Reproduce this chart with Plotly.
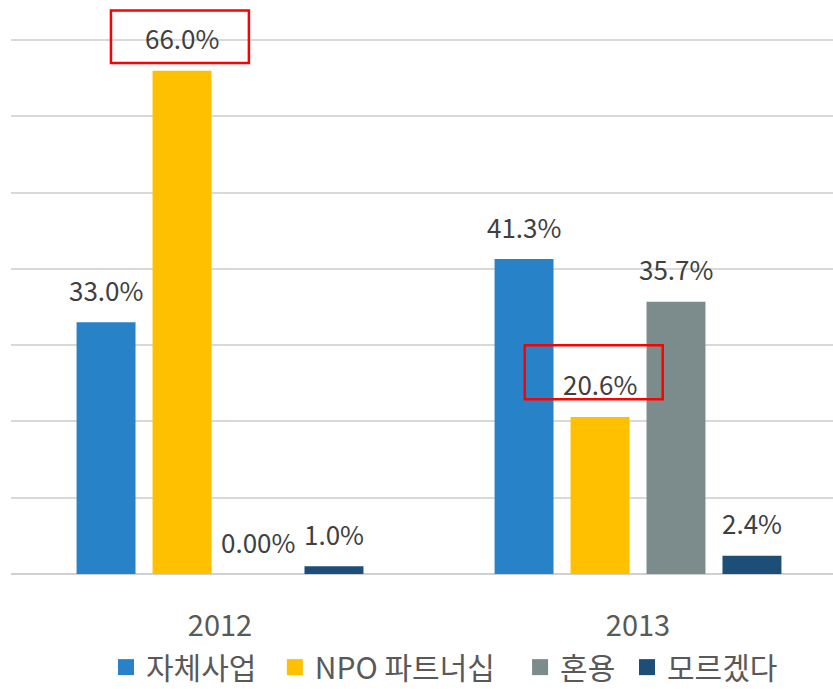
import plotly.graph_objects as go

categories = ["2012", "2013"]
series_names = ["자체사업", "NPO 파트너십", "혼용", "모르겠다"]
series_colors = ["#2882C8", "#FFC000", "#7C8C8D", "#1D4E77"]
values = {
    "자체사업": [33.0, 41.3],
    "NPO 파트너십": [66.0, 20.6],
    "혼용": [0.0, 35.7],
    "모르겠다": [1.0, 2.4],
}
labels = {
    "자체사업": ["33.0%", "41.3%"],
    "NPO 파트너십": ["66.0%", "20.6%"],
    "혼용": ["0.00%", "35.7%"],
    "모르겠다": ["1.0%", "2.4%"],
}
# highlighted labels: (series, category index)
highlights = [("NPO 파트너십", 0), ("NPO 파트너십", 1)]

FONT = "Noto Sans CJK KR"
BARGAP = 0.273
BARGROUPGAP = 0.224
n = len(series_names)
slot = (1 - BARGAP) / n
legend_pad = [2, 3, 1, 1]  # spacing after each legend entry (non-breaking spaces)

fig = go.Figure()
for i, name in enumerate(series_names):
    fig.add_trace(go.Bar(
        x=categories, y=values[name], name=name,
        marker=dict(color=series_colors[i], line=dict(width=0)),
        showlegend=False,
    ))
    fig.add_trace(go.Scatter(
        x=[None], y=[None], mode="markers", name=name + "\u00a0" * legend_pad[i],
        marker=dict(symbol="square", size=16, color=series_colors[i]),
        showlegend=True,
    ))

annotations = []
for i, name in enumerate(series_names):
    for c, v in enumerate(values[name]):
        annotations.append(dict(
            x=c + (i - (n - 1) / 2) * slot, y=v, xref="x", yref="y",
            text=labels[name][c], showarrow=False, yshift=33,
            xanchor="center", yanchor="middle",
            font=dict(family=FONT, size=26, color="#404040"),
        ))

shapes = []
for name, c in highlights:
    i = series_names.index(name)
    v = values[name][c]
    xc = c + (i - (n - 1) / 2) * slot
    if c == 0:
        x0, x1, y0, y1 = xc - 0.17, xc + 0.16, v + 1.0, v + 7.9
    else:
        x0, x1, y0, y1 = xc - 0.18, xc + 0.15, v + 2.3, v + 9.4
    shapes.append(dict(type="rect", xref="x", yref="y", x0=x0, x1=x1, y0=y0, y1=y1,
                       line=dict(color="#FF0000", width=2.5), fillcolor="rgba(0,0,0,0)"))

fig.update_layout(
    width=833, height=689,
    margin=dict(l=11, r=0, t=2, b=115, autoexpand=False),
    paper_bgcolor="white", plot_bgcolor="white",
    barmode="group", bargap=BARGAP, bargroupgap=BARGROUPGAP,
    font=dict(family=FONT, color="#595959"),
    xaxis=dict(type="category", range=[-0.5, 1.4665], showgrid=False, showline=False,
               tickfont=dict(family=FONT, size=29, color="#595959"),
               ticklabelstandoff=32, zeroline=False),
    yaxis=dict(range=[0, 75], dtick=10, showgrid=True, gridcolor="#D9D9D9", gridwidth=1.5,
               showticklabels=False, zeroline=True, zerolinecolor="#D0D0D0", zerolinewidth=2,
               showline=False),
    legend=dict(orientation="h", x=(106 - 11) / 822, xanchor="left", y=-0.1628, yanchor="middle",
                font=dict(family=FONT, size=30, color="#595959"),
                itemwidth=30, tracegroupgap=0, bgcolor="rgba(0,0,0,0)"),
    annotations=annotations,
    shapes=shapes,
)

fig.write_html("out.html", config={"displayModeBar": False},
               post_script="document.body.style.margin='0';document.body.style.overflow='hidden';")
